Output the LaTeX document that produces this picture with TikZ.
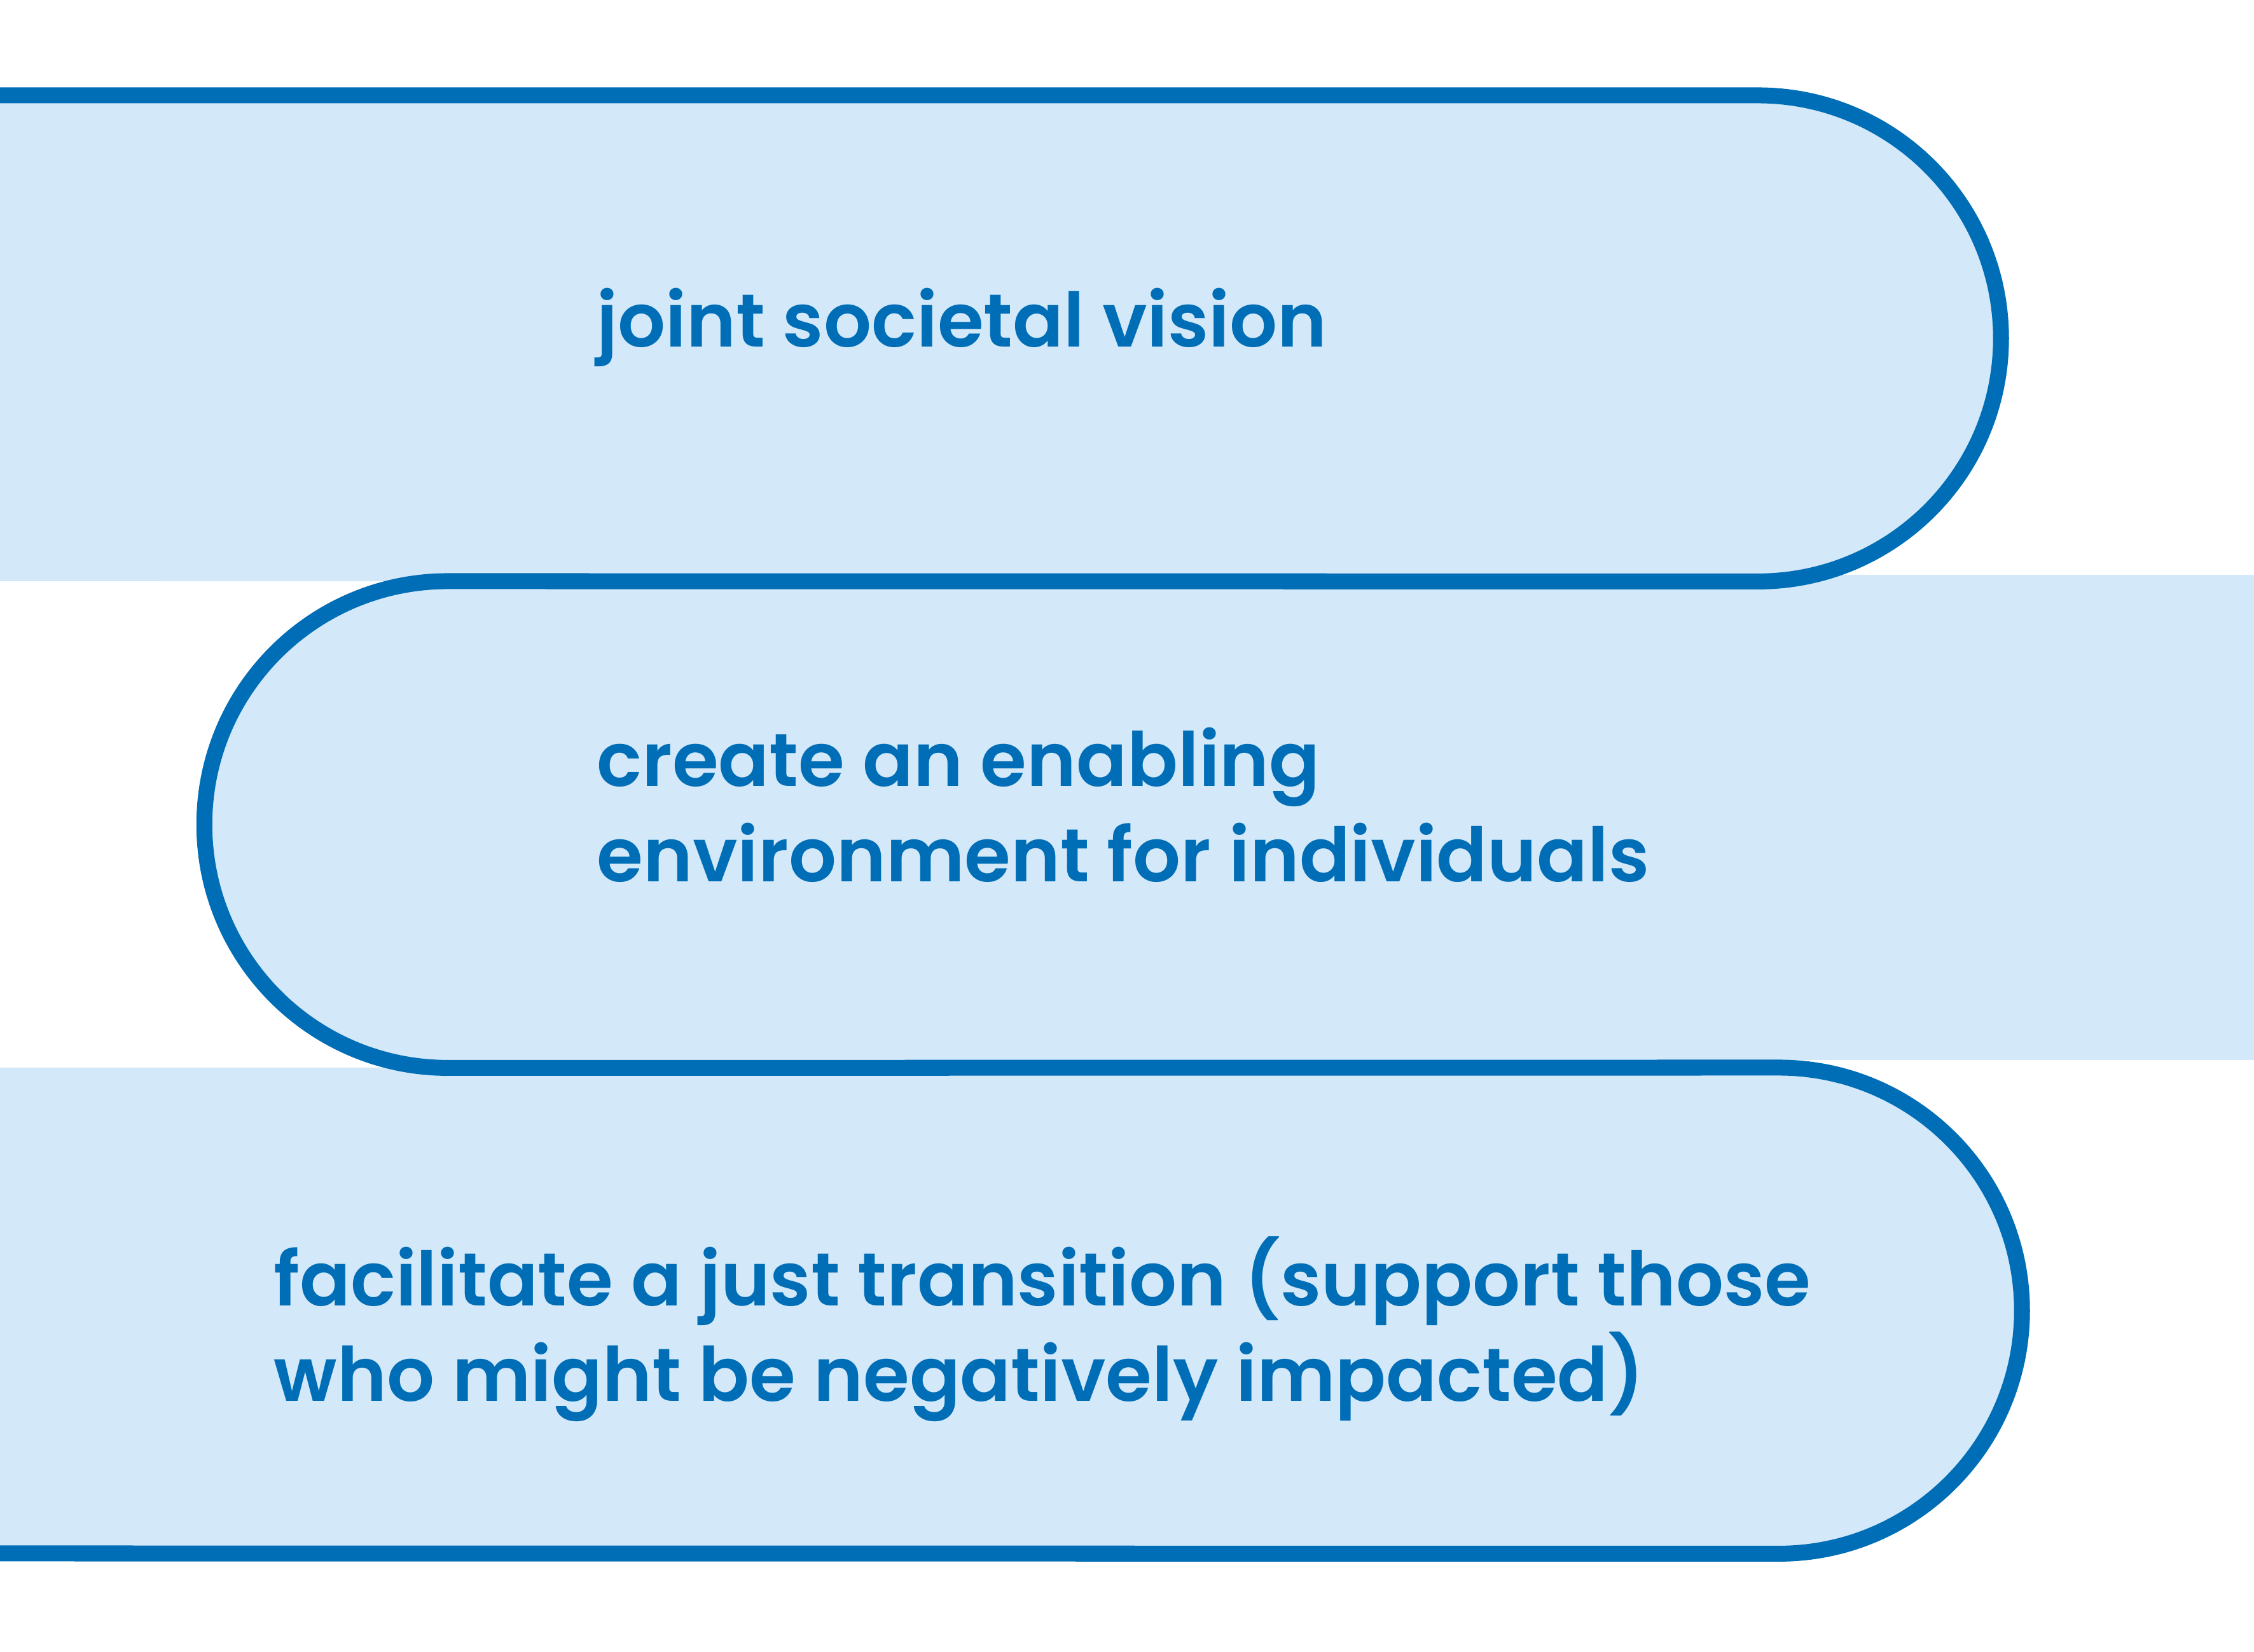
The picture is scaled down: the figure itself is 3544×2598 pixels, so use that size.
\documentclass[tikz,border=0pt]{standalone}
\usepackage{fontspec}
\setmainfont{Poppins}[BoldFont={Poppins SemiBold}]
\begin{document}
\begin{tikzpicture}[x=0.01cm,y=0.01cm]
\definecolor{lineblue}{RGB}{0,110,183}
\definecolor{fillblue}{RGB}{211,232,248}
\tikzset{
  outline/.style={draw=lineblue, line width=0.25cm},
  band/.style={fill=fillblue},
  lbl/.style={anchor=base west, inner sep=0pt, text=lineblue,
    font=\fontsize{33.5}{40}\selectfont\bfseries}
}
\useasboundingbox (0,0) rectangle (3544,2598);
% fills
\fill[band] (0,2448) -- (2764,2448) arc (90:-90:3.82cm) -- (0,1684) -- cycle;
\fill[band] (704,1694) -- (3544,1694) -- (3544,931) -- (704,931) -- cycle;
\fill[band] (704,1684) arc (90:270:3.825cm) -- cycle;
\fill[band] (0,919) -- (2797,919) arc (90:-90:3.82cm) -- (0,155) -- cycle;
% serpentine outline
\draw[outline] (0,2448) -- (2764,2448) arc (90:-90:3.82cm) -- (704,1684)
  arc (90:270:3.825cm) -- (2797,919) arc (90:-90:3.82cm) -- (0,155);
% texts
\node[lbl] (t1) at (938,2052) {joint societal vision};
\node[lbl] (t2a) at (938,1361) {create an enabling};
\node[lbl] (t2b) at (938,1211) {environment for individuals};
\node[lbl] (t3a) at (430,544) {facilitate a just transition (support those};
\node[lbl] (t3b) at (430,394) {who might be negatively impacted)};
\end{tikzpicture}
\end{document}
